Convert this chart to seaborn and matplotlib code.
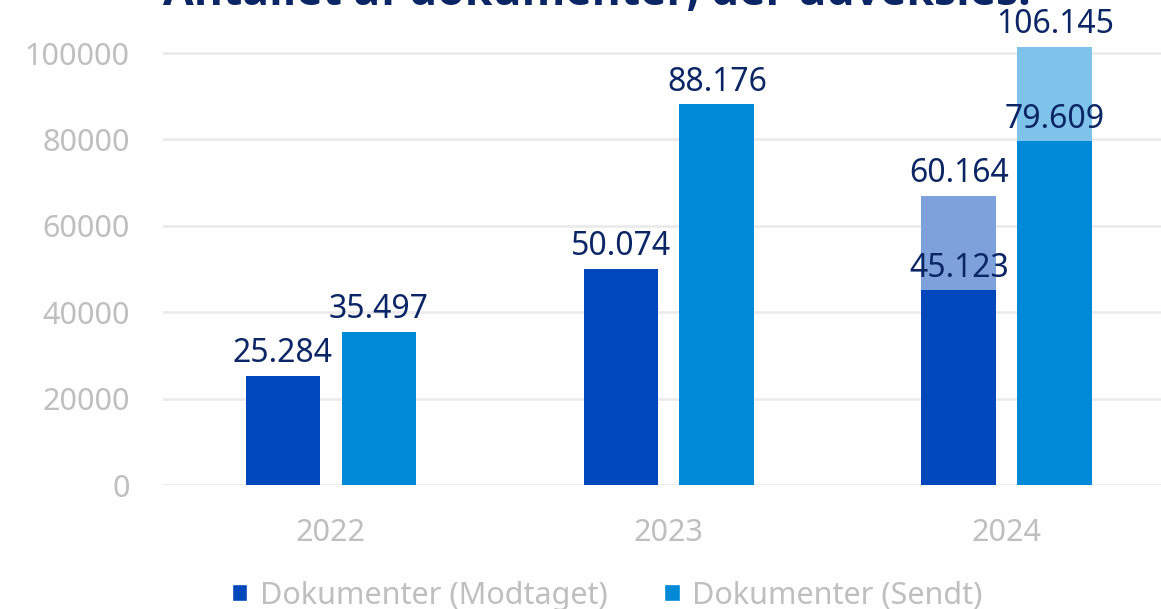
import matplotlib
matplotlib.use("Agg")
import matplotlib.pyplot as plt
from matplotlib.patches import Patch
import seaborn as sns
import pandas as pd

years = ["2022", "2023", "2024"]
modtaget = [25284, 50074, 45123]
sendt = [35497, 88176, 79609]
# lighter extension shown on the 2024 bars (height)
modtaget_total = [25284, 50074, 66900]
sendt_total = [35497, 88176, 101400]
modtaget_labels = ["25.284", "50.074", "45.123"]
sendt_labels = ["35.497", "88.176", "79.609"]
total_labels = {2: ("60.164", "106.145")}

series = ["Dokumenter (Modtaget)", "Dokumenter (Sendt)"]
c_dark = ["#0047BB", "#0089D6"]
c_light = ["#7FA1DB", "#80C3EA"]
navy = "#0B2565"
grey = "#BFBFBF"

df = pd.DataFrame({
    "year": years * 2,
    "serie": [series[0]] * 3 + [series[1]] * 3,
    "value": modtaget + sendt,
    "total": modtaget_total + sendt_total,
})

sns.set_theme(style="white")
plt.rcParams["font.family"] = ["Noto Sans", "DejaVu Sans"]

fig = plt.figure(figsize=(11.61, 6.09), dpi=100)
ax = fig.add_axes([0.1404, 0.2036, 0.8596, 0.7964])

W, GAP = 0.568, 0.22
sns.barplot(data=df, x="year", y="total", hue="serie", palette=c_light,
            width=W, gap=GAP, ax=ax, legend=False, saturation=1, errorbar=None,
            linewidth=0)
sns.barplot(data=df, x="year", y="value", hue="serie", palette=c_dark,
            width=W, gap=GAP, ax=ax, legend=False, saturation=1, errorbar=None,
            linewidth=0)

off = W / 4
for i in range(len(years)):
    for j, (vals, labs) in enumerate([(modtaget, modtaget_labels), (sendt, sendt_labels)]):
        x = i - off if j == 0 else i + off
        ax.annotate(labs[i], (x, vals[i]), xytext=(0, 4), textcoords="offset points",
                    ha="center", va="bottom", fontsize=23, color=navy)
    if i in total_labels:
        for j, tot in enumerate([modtaget_total, sendt_total]):
            x = i - off if j == 0 else i + off
            ax.annotate(total_labels[i][j], (x, tot[i]), xytext=(0, 4),
                        textcoords="offset points", ha="center", va="bottom",
                        fontsize=23, color=navy)

ax.set_ylim(0, 112270)
ax.set_xlim(-0.497, 2.456)
ax.set_yticks(range(0, 100001, 20000))
ax.yaxis.grid(True, color="#EBEBEB", linewidth=2)
ax.set_axisbelow(True)
sns.despine(ax=ax, left=True, bottom=True)
ax.tick_params(axis="both", length=0, labelsize=22, labelcolor=grey)
ax.tick_params(axis="y", pad=24)
ax.tick_params(axis="x", pad=24)
ax.set_xlabel("")
ax.set_ylabel("")

fig.text(0.514, 0.991, "Antallet af dokumenter, der udveksles:", ha="center",
         va="baseline", fontsize=32, fontweight="bold", color=navy,
         family=["Open Sans", "DejaVu Sans"])

handles = [Patch(facecolor=c) for c in c_dark]
fig.legend(handles, series, loc="center", bbox_to_anchor=(0.523, 0.022), ncol=2,
           frameon=False, fontsize=22, labelcolor=grey, handlelength=0.5,
           handleheight=0.5, handletextpad=0.42, columnspacing=1.86)

fig.savefig("out.png", dpi=100)
